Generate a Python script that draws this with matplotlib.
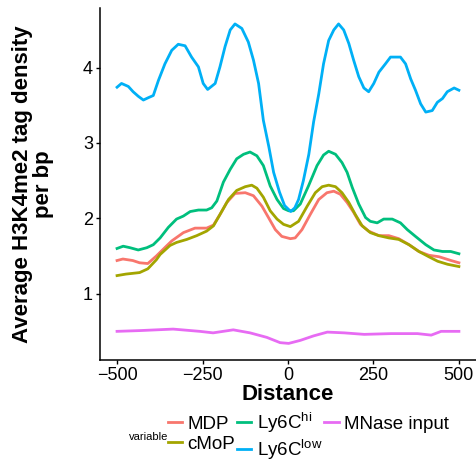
import matplotlib
matplotlib.use('Agg')
import matplotlib.pyplot as plt

plt.rcParams['font.family'] = ['Liberation Sans', 'DejaVu Sans']
plt.rcParams['mathtext.fontset'] = 'custom'
plt.rcParams['mathtext.rm'] = 'Liberation Sans'
plt.rcParams['mathtext.it'] = 'Liberation Sans:italic'

# ---- data ----
mdp_x = [-500, -483, -454, -434, -410, -385, -356, -340, -306, -272, -238, -218,
         -199, -179, -155, -125, -101, -76, -57, -37, -18, 7, 21, 41, 65, 90,
         114, 134, 153, 173, 192, 212, 236, 266, 295, 324, 354, 383, 412, 442,
         477, 500]
mdp_y = [1.44, 1.46, 1.44, 1.41, 1.40, 1.50, 1.63, 1.70, 1.81, 1.87, 1.87, 1.91,
         2.05, 2.21, 2.33, 2.34, 2.30, 2.16, 2.01, 1.85, 1.76, 1.73, 1.74, 1.85,
         2.05, 2.25, 2.34, 2.36, 2.32, 2.21, 2.08, 1.92, 1.83, 1.77, 1.77, 1.73,
         1.65, 1.56, 1.51, 1.49, 1.44, 1.41]

cmop_x = [-500, -474, -434, -410, -385, -374, -345, -326, -296, -267, -238, -218,
          -199, -174, -150, -125, -106, -91, -72, -52, -32, -13, 7, 31, 56, 80,
          100, 119, 139, 158, 178, 197, 217, 241, 266, 295, 324, 354, 383, 412,
          438, 467, 500]
cmop_y = [1.24, 1.26, 1.28, 1.33, 1.45, 1.52, 1.64, 1.68, 1.72, 1.77, 1.83, 1.90,
          2.05, 2.25, 2.37, 2.42, 2.44, 2.40, 2.28, 2.10, 1.99, 1.92, 1.89, 1.96,
          2.16, 2.34, 2.42, 2.44, 2.42, 2.34, 2.21, 2.05, 1.90, 1.81, 1.77, 1.74,
          1.72, 1.65, 1.56, 1.49, 1.43, 1.39, 1.36]

hi_x = [-500, -482, -462, -438, -413, -394, -374, -350, -326, -306, -286, -262,
        -238, -223, -208, -189, -169, -150, -130, -111, -91, -72, -52, -32, -13,
        2, 16, 36, 60, 85, 104, 119, 139, 158, 173, 188, 207, 227, 241, 261, 280,
        305, 329, 349, 373, 403, 427, 452, 476, 500]
hi_y = [1.60, 1.63, 1.61, 1.58, 1.61, 1.65, 1.74, 1.88, 1.99, 2.03, 2.09, 2.11,
        2.11, 2.14, 2.23, 2.48, 2.65, 2.79, 2.85, 2.88, 2.83, 2.70, 2.43, 2.25,
        2.13, 2.10, 2.10, 2.19, 2.43, 2.70, 2.84, 2.89, 2.85, 2.74, 2.61, 2.41,
        2.19, 2.01, 1.96, 1.94, 1.99, 1.99, 1.94, 1.85, 1.76, 1.65, 1.58, 1.56,
        1.56, 1.53]

low_x = [-500, -487, -467, -453, -438, -423, -409, -394, -379, -360, -340, -321,
         -301, -282, -262, -248, -235, -213, -199, -184, -169, -155, -135, -116,
         -101, -86, -72, -56, -42, -25, -10, 8, 20, 31, 45, 61, 75, 90, 104, 119,
         134, 148, 163, 178, 192, 207, 222, 236, 251, 266, 285, 300, 329, 344,
         359, 373, 388, 403, 422, 437, 452, 466, 486, 500]
low_y = [3.74, 3.79, 3.75, 3.68, 3.62, 3.57, 3.60, 3.63, 3.83, 4.05, 4.23, 4.31,
         4.29, 4.14, 4.01, 3.79, 3.71, 3.79, 4.01, 4.28, 4.50, 4.58, 4.52, 4.34,
         4.10, 3.79, 3.30, 2.95, 2.61, 2.35, 2.17, 2.09, 2.14, 2.25, 2.50, 2.85,
         3.28, 3.65, 4.05, 4.36, 4.50, 4.58, 4.50, 4.32, 4.10, 3.88, 3.73, 3.68,
         3.79, 3.94, 4.05, 4.14, 4.14, 4.05, 3.85, 3.70, 3.52, 3.41, 3.43, 3.54,
         3.59, 3.68, 3.73, 3.70]

mnase_x = [-500, -434, -336, -258, -219, -160, -111, -62, -23, 2, 36, 75, 115,
           164, 223, 301, 379, 419, 448, 500]
mnase_y = [0.50, 0.51, 0.53, 0.50, 0.48, 0.52, 0.48, 0.42, 0.35, 0.34, 0.38,
           0.44, 0.49, 0.48, 0.46, 0.47, 0.47, 0.45, 0.50, 0.50]

labels = ['MDP', 'cMoP', r'Ly6C$^{\mathrm{hi}}$', r'Ly6C$^{\mathrm{low}}$', 'MNase input']
colors = ['#F8766D', '#A3A500', '#00BF7D', '#00B0F6', '#E76BF3']
xticks = [-500, -250, 0, 250, 500]
xticklabels = ['\u2212500', '\u2212250', '0', '250', '500']
yticks = [1, 2, 3, 4]

series = [(mdp_x, mdp_y), (cmop_x, cmop_y), (hi_x, hi_y), (low_x, low_y), (mnase_x, mnase_y)]

fig = plt.figure(figsize=(4.76, 4.63), dpi=100)
ax = fig.add_axes([0.21, 0.2225, 0.79, 0.76])

for (xs, ys), lab, col in zip(series, labels, colors):
    ax.plot(xs, ys, color=col, linewidth=2, label=lab)

ax.set_xlim(-550, 550)
ax.set_ylim(0.12, 4.79)
ax.set_xticks(xticks)
ax.set_xticklabels(xticklabels)
ax.set_yticks(yticks)
for s in ['top', 'right']:
    ax.spines[s].set_visible(False)
for s in ['left', 'bottom']:
    ax.spines[s].set_linewidth(1.1)
ax.tick_params(labelsize=13, length=3, width=1, colors='black', pad=2)
ax.set_xlabel('Distance', fontsize=16, fontweight='bold', labelpad=0)
ax.set_ylabel('Average H3K4me2 tag density\nper bp', fontsize=16, fontweight='bold',
              labelpad=21, linespacing=1.0)

handles, labs = ax.get_legend_handles_labels()
fig.legend(handles, labs, ncol=3, loc='center', bbox_to_anchor=(0.648, 0.058),
           frameon=False, fontsize=13.5, handlelength=0.75, handletextpad=0.3,
           columnspacing=0.1, labelspacing=0.15, borderpad=0)
fig.text(0.27, 0.056, 'variable', fontsize=8, ha='left', va='center')

fig.savefig('out.png', dpi=100)
